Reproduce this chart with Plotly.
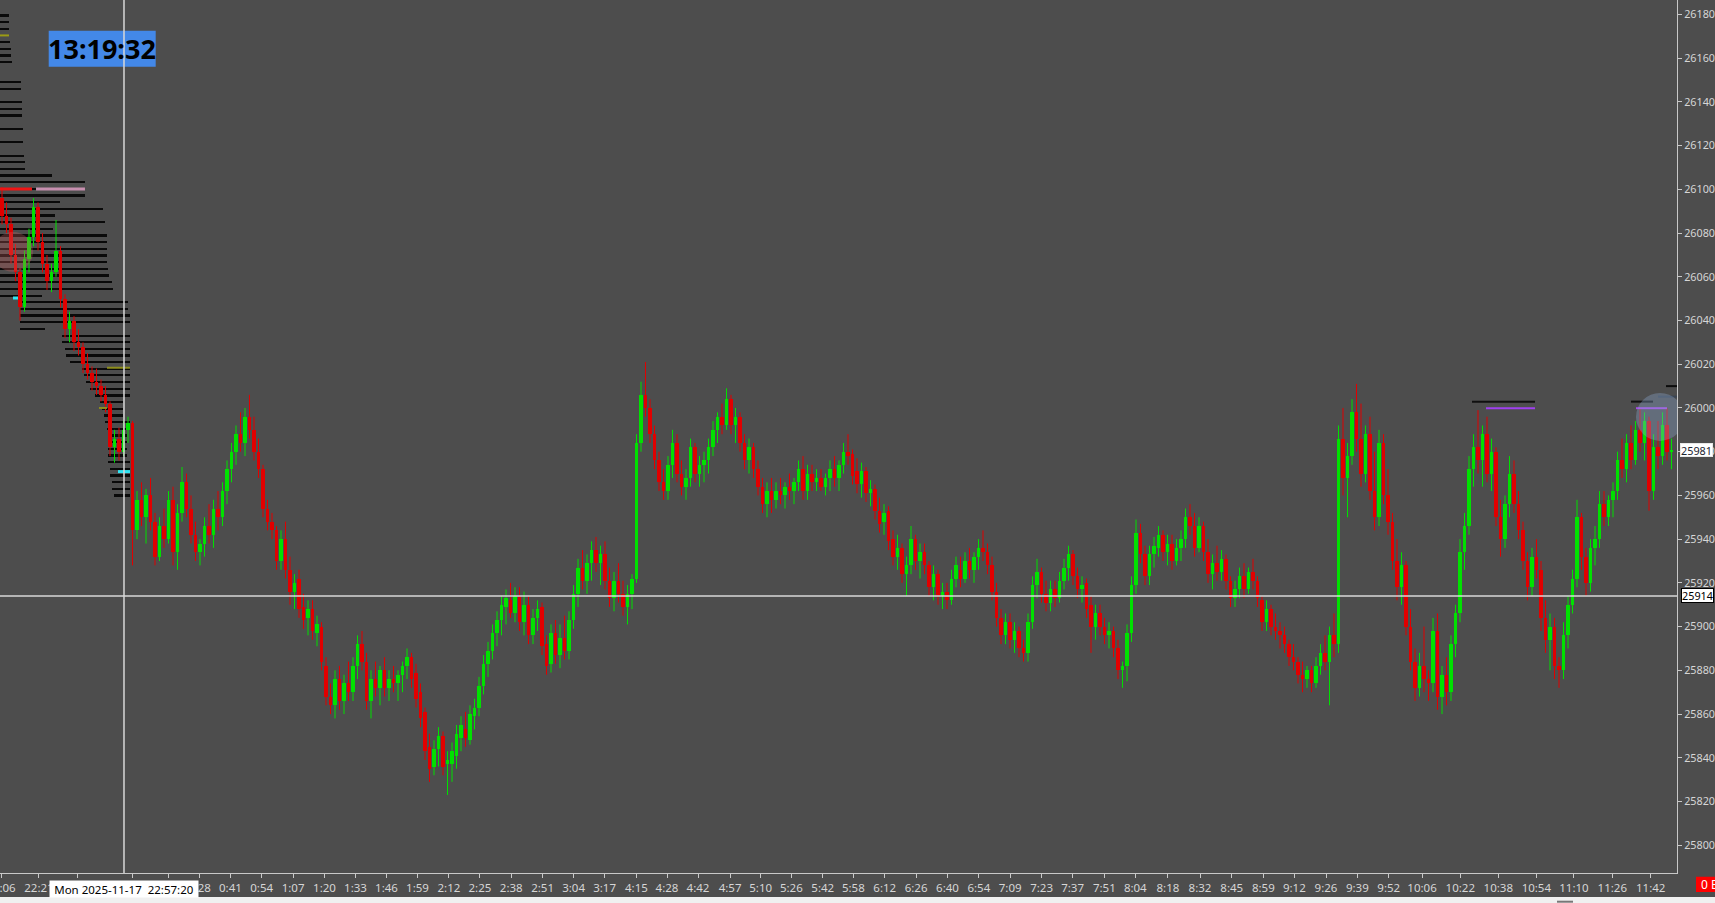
import plotly.graph_objects as go

W, H = 1715, 903
PLOT_RIGHT = 1677      # px, right edge of the price pane
PLOT_BOTTOM = 873      # px, bottom edge of the price pane
BG = "#4d4d4d"
AX = "#c8c8c8"
TXT = "#d6d6d6"
UP = "#00e100"
DN = "#e10000"
FONT = "Noto Sans"

# ---------------- OHLC bars ----------------
opens = [
 26096, 26088, 26084, 26070, 26062, 26046, 26068, 26078, 26092, 26076,
 26066, 26058, 26062, 26072, 26050, 26036, 26040, 26030, 26028, 26020,
 26016, 26012, 26010, 26006, 26002, 25982, 25986, 25980, 25990, 25993,
 25944, 25958, 25950, 25960, 25948, 25932, 25946, 25940, 25958, 25934,
 25952, 25966, 25954, 25942, 25934, 25938, 25946, 25942, 25954, 25950,
 25962, 25972, 25980, 25988, 25984, 25996, 25990, 25980, 25972, 25954,
 25948, 25944, 25930, 25940, 25926, 25916, 25922, 25909, 25904, 25908,
 25897, 25900, 25882, 25868, 25864, 25876, 25866, 25874, 25870, 25882,
 25892, 25884, 25866, 25876, 25872, 25880, 25872, 25876, 25874, 25878,
 25882, 25886, 25879, 25870, 25861, 25845, 25836, 25844, 25850, 25837,
 25837, 25841, 25849, 25853, 25848, 25859, 25863, 25873, 25883, 25889,
 25897, 25903, 25909, 25912, 25906, 25914, 25902, 25910, 25896, 25904,
 25909, 25892, 25883, 25897, 25887, 25895, 25889, 25903, 25915, 25927,
 25921, 25929, 25935, 25929, 25933, 25921, 25913, 25921, 25915, 25909,
 25915, 25922, 25984, 26006, 26000, 25988, 25976, 25966, 25962, 25974,
 25984, 25970, 25964, 25968, 25982, 25970, 25974, 25976, 25982, 25990,
 25996, 25992, 26004, 25992, 25996, 25984, 25976, 25982, 25972, 25964,
 25956, 25962, 25958, 25962, 25960, 25964, 25962, 25966, 25972, 25962,
 25970, 25966, 25968, 25964, 25968, 25972, 25968, 25974, 25980, 25979,
 25971, 25965, 25971, 25961, 25963, 25953, 25948, 25953, 25940, 25932,
 25936, 25924, 25928, 25940, 25930, 25934, 25928, 25918, 25924, 25914,
 25916, 25912, 25922, 25926, 25922, 25930, 25926, 25932, 25936, 25934,
 25928, 25916, 25904, 25896, 25902, 25894, 25898, 25890, 25888, 25902,
 25919, 25925, 25915, 25911, 25917, 25913, 25921, 25927, 25933, 25923,
 25917, 25920, 25910, 25900, 25906, 25900, 25896, 25898, 25890, 25880,
 25882, 25897, 25919, 25943, 25933, 25923, 25933, 25936, 25942, 25934,
 25938, 25930, 25936, 25940, 25950, 25946, 25936, 25946, 25934, 25924,
 25929, 25925, 25931, 25921, 25913, 25917, 25923, 25917, 25925, 25921,
 25912, 25902, 25908, 25900, 25898, 25896, 25892, 25886, 25884, 25878,
 25876, 25880, 25874, 25882, 25888, 25884, 25896, 25892, 25986, 25968,
 25978, 25998, 25986, 25970, 25988, 25962, 25950, 25984, 25960, 25948,
 25930, 25918, 25928, 25900, 25884, 25872, 25882, 25876, 25874, 25898,
 25868, 25878, 25870, 25892, 25906, 25934, 25946, 25972, 25982, 25976,
 25988, 25970, 25980, 25950, 25940, 25956, 25970, 25956, 25944, 25930,
 25918, 25932, 25926, 25904, 25894, 25900, 25882, 25880, 25896, 25910,
 25922, 25950, 25932, 25920, 25936, 25940, 25956, 25950, 25958, 25962,
 25976, 25972, 25984, 25976, 25990, 25984, 25994, 25962, 25982, 25978,
 25992, 25980,
]
highs = [
 26101, 26094, 26087, 26075, 26064, 26072, 26082, 26096, 26094, 26080,
 26070, 26066, 26086, 26074, 26052, 26044, 26042, 26036, 26030, 26025,
 26019, 26018, 26013, 26010, 26003, 25990, 25991, 25994, 25996, 25994,
 25962, 25966, 25963, 25968, 25952, 25950, 25954, 25962, 25964, 25956,
 25973, 25970, 25960, 25948, 25940, 25950, 25956, 25958, 25962, 25966,
 25976, 25984, 25992, 25998, 26000, 26006, 25996, 25986, 25974, 25958,
 25952, 25946, 25944, 25948, 25932, 25924, 25926, 25915, 25912, 25912,
 25905, 25902, 25886, 25874, 25880, 25882, 25878, 25884, 25886, 25896,
 25898, 25888, 25880, 25884, 25882, 25886, 25880, 25882, 25880, 25884,
 25890, 25888, 25883, 25874, 25863, 25851, 25848, 25854, 25852, 25843,
 25847, 25855, 25859, 25861, 25864, 25867, 25877, 25887, 25893, 25901,
 25907, 25914, 25917, 25920, 25918, 25918, 25916, 25914, 25908, 25912,
 25911, 25896, 25901, 25903, 25901, 25905, 25907, 25919, 25931, 25935,
 25933, 25939, 25941, 25937, 25939, 25927, 25925, 25929, 25921, 25919,
 25924, 25988, 26012, 26021, 26004, 25992, 25980, 25972, 25978, 25990,
 25988, 25976, 25972, 25986, 25984, 25978, 25980, 25986, 25994, 25998,
 26002, 26009, 26006, 26000, 25998, 25988, 25986, 25984, 25976, 25968,
 25966, 25968, 25966, 25968, 25966, 25970, 25968, 25976, 25978, 25974,
 25974, 25972, 25972, 25970, 25976, 25978, 25976, 25984, 25988, 25981,
 25977, 25975, 25973, 25967, 25965, 25959, 25956, 25955, 25944, 25942,
 25938, 25932, 25946, 25942, 25938, 25938, 25930, 25928, 25926, 25920,
 25920, 25926, 25932, 25932, 25934, 25936, 25934, 25940, 25944, 25938,
 25932, 25920, 25908, 25906, 25906, 25902, 25900, 25894, 25906, 25923,
 25931, 25927, 25921, 25921, 25921, 25925, 25931, 25937, 25935, 25927,
 25923, 25922, 25914, 25910, 25910, 25904, 25902, 25900, 25894, 25884,
 25901, 25923, 25949, 25947, 25937, 25937, 25941, 25946, 25944, 25942,
 25942, 25940, 25944, 25954, 25956, 25952, 25950, 25948, 25940, 25933,
 25937, 25935, 25933, 25923, 25921, 25927, 25929, 25927, 25931, 25923,
 25914, 25912, 25910, 25906, 25902, 25900, 25894, 25892, 25886, 25884,
 25882, 25882, 25886, 25892, 25896, 25900, 25906, 25992, 26000, 25984,
 26004, 26011, 26002, 25992, 25996, 25980, 25990, 25988, 25972, 25952,
 25940, 25934, 25930, 25908, 25890, 25888, 25900, 25880, 25904, 25906,
 25882, 25886, 25896, 25910, 25940, 25952, 25978, 25988, 25999, 25992,
 25996, 25986, 25982, 25958, 25960, 25978, 25976, 25962, 25948, 25934,
 25936, 25940, 25930, 25912, 25906, 25904, 25886, 25902, 25914, 25926,
 25958, 25952, 25936, 25940, 25946, 25962, 25962, 25960, 25966, 25980,
 25986, 25988, 25992, 25994, 26000, 25998, 25996, 25988, 25994, 25998,
 26000, 25986,
]
lows = [
 26084, 26080, 26066, 26058, 26040, 26044, 26062, 26074, 26072, 26062,
 26054, 26053, 26060, 26046, 26032, 26030, 26026, 26024, 26016, 26013,
 26008, 26006, 26003, 25998, 25978, 25975, 25976, 25978, 25984, 25928,
 25940, 25946, 25938, 25944, 25928, 25930, 25936, 25938, 25928, 25926,
 25948, 25950, 25938, 25930, 25928, 25932, 25938, 25936, 25944, 25946,
 25956, 25966, 25974, 25980, 25978, 25986, 25976, 25968, 25950, 25944,
 25940, 25926, 25926, 25922, 25910, 25908, 25904, 25899, 25896, 25894,
 25891, 25880, 25864, 25860, 25858, 25862, 25860, 25866, 25866, 25876,
 25880, 25862, 25858, 25868, 25864, 25868, 25866, 25870, 25866, 25870,
 25876, 25872, 25863, 25854, 25839, 25829, 25832, 25836, 25832, 25823,
 25829, 25835, 25843, 25845, 25846, 25853, 25859, 25869, 25877, 25885,
 25891, 25896, 25901, 25904, 25902, 25898, 25896, 25892, 25892, 25898,
 25887, 25878, 25879, 25883, 25881, 25885, 25885, 25899, 25909, 25917,
 25915, 25921, 25925, 25919, 25917, 25909, 25907, 25911, 25905, 25901,
 25908, 25920, 25980, 25996, 25984, 25972, 25962, 25958, 25958, 25968,
 25966, 25960, 25958, 25964, 25966, 25964, 25966, 25970, 25978, 25984,
 25988, 25990, 25988, 25984, 25980, 25972, 25970, 25968, 25960, 25952,
 25950, 25952, 25954, 25956, 25954, 25958, 25956, 25962, 25958, 25958,
 25962, 25962, 25962, 25960, 25962, 25964, 25962, 25970, 25974, 25965,
 25961, 25959, 25957, 25955, 25949, 25943, 25942, 25935, 25928, 25926,
 25920, 25914, 25924, 25926, 25922, 25924, 25914, 25912, 25910, 25908,
 25908, 25910, 25918, 25918, 25920, 25922, 25920, 25926, 25930, 25924,
 25912, 25900, 25892, 25892, 25890, 25888, 25886, 25884, 25884, 25899,
 25913, 25911, 25907, 25907, 25909, 25911, 25917, 25921, 25919, 25913,
 25911, 25904, 25888, 25894, 25896, 25892, 25890, 25886, 25876, 25872,
 25875, 25893, 25915, 25929, 25919, 25919, 25927, 25932, 25930, 25928,
 25926, 25928, 25930, 25936, 25942, 25932, 25934, 25930, 25920, 25917,
 25921, 25921, 25917, 25909, 25909, 25913, 25913, 25915, 25917, 25909,
 25898, 25898, 25896, 25894, 25890, 25888, 25882, 25880, 25874, 25870,
 25872, 25870, 25872, 25878, 25880, 25864, 25886, 25888, 25960, 25950,
 25974, 25980, 25964, 25966, 25958, 25944, 25946, 25956, 25942, 25926,
 25912, 25910, 25896, 25880, 25866, 25868, 25870, 25866, 25870, 25862,
 25860, 25864, 25866, 25886, 25902, 25926, 25942, 25964, 25970, 25964,
 25966, 25962, 25946, 25932, 25936, 25950, 25952, 25940, 25926, 25912,
 25914, 25922, 25898, 25888, 25880, 25876, 25872, 25876, 25890, 25906,
 25918, 25926, 25914, 25916, 25928, 25936, 25946, 25946, 25950, 25958,
 25968, 25966, 25972, 25974, 25980, 25976, 25953, 25958, 25972, 25974,
 25976, 25972,
]
closes = [
 26088, 26084, 26070, 26062, 26046, 26068, 26078, 26092, 26076, 26066,
 26058, 26062, 26072, 26050, 26036, 26040, 26030, 26028, 26020, 26016,
 26012, 26010, 26006, 26002, 25982, 25986, 25980, 25990, 25993, 25944,
 25958, 25950, 25960, 25948, 25932, 25946, 25940, 25958, 25934, 25952,
 25966, 25954, 25942, 25934, 25938, 25946, 25942, 25954, 25950, 25962,
 25972, 25980, 25988, 25984, 25996, 25990, 25980, 25972, 25954, 25948,
 25944, 25930, 25940, 25926, 25916, 25920, 25908, 25903, 25908, 25898,
 25901, 25884, 25868, 25864, 25876, 25866, 25874, 25870, 25882, 25892,
 25884, 25866, 25876, 25872, 25880, 25872, 25876, 25874, 25878, 25882,
 25886, 25876, 25867, 25858, 25843, 25835, 25844, 25850, 25836, 25839,
 25843, 25851, 25855, 25849, 25860, 25863, 25873, 25883, 25889, 25897,
 25903, 25910, 25913, 25906, 25914, 25902, 25910, 25896, 25904, 25908,
 25891, 25882, 25897, 25887, 25895, 25889, 25903, 25915, 25927, 25921,
 25929, 25935, 25929, 25933, 25921, 25913, 25921, 25915, 25909, 25915,
 25922, 25984, 26006, 26000, 25988, 25976, 25966, 25962, 25974, 25984,
 25970, 25964, 25968, 25982, 25970, 25974, 25976, 25982, 25990, 25996,
 25992, 26004, 25992, 25996, 25984, 25976, 25982, 25972, 25964, 25956,
 25962, 25958, 25962, 25960, 25964, 25962, 25966, 25972, 25962, 25970,
 25966, 25968, 25964, 25968, 25972, 25968, 25974, 25980, 25978, 25969,
 25965, 25971, 25961, 25963, 25953, 25947, 25952, 25939, 25932, 25936,
 25924, 25928, 25940, 25930, 25934, 25928, 25918, 25924, 25914, 25916,
 25912, 25922, 25928, 25922, 25930, 25926, 25932, 25936, 25934, 25928,
 25916, 25904, 25896, 25902, 25894, 25898, 25890, 25888, 25902, 25919,
 25925, 25915, 25911, 25917, 25913, 25921, 25927, 25933, 25923, 25917,
 25919, 25908, 25900, 25906, 25900, 25896, 25898, 25890, 25880, 25882,
 25897, 25919, 25943, 25933, 25923, 25933, 25937, 25942, 25934, 25938,
 25930, 25936, 25940, 25950, 25946, 25936, 25946, 25934, 25924, 25929,
 25925, 25931, 25921, 25913, 25917, 25923, 25917, 25925, 25921, 25913,
 25902, 25908, 25900, 25898, 25896, 25892, 25886, 25884, 25878, 25876,
 25880, 25874, 25882, 25888, 25884, 25896, 25892, 25986, 25968, 25978,
 25998, 25986, 25970, 25988, 25962, 25950, 25984, 25960, 25948, 25930,
 25918, 25928, 25900, 25884, 25872, 25882, 25876, 25874, 25898, 25868,
 25878, 25870, 25892, 25906, 25934, 25946, 25972, 25982, 25976, 25988,
 25970, 25980, 25950, 25940, 25956, 25970, 25956, 25944, 25930, 25918,
 25932, 25926, 25904, 25894, 25900, 25882, 25880, 25896, 25910, 25922,
 25950, 25932, 25920, 25936, 25940, 25956, 25950, 25958, 25962, 25976,
 25972, 25984, 25976, 25990, 25984, 25994, 25962, 25982, 25978, 25992,
 25980, 25981,
]

# ---------------- time axis (bar-index positions of the labels) ----------------
tick_pos = [
 -0.22, 8.22, 16.82, 28.89, 36.98, 43.87, 50.76, 57.71, 64.69, 71.67,
 78.56, 85.44, 92.33, 99.31, 106.20, 113.16, 120.13, 127.02, 133.91, 140.98,
 147.78, 154.67, 161.80, 168.60, 175.40, 182.38, 189.18, 196.16, 203.13, 210.11,
 217.07, 224.04, 231.02, 237.91, 244.96, 251.84, 259.09, 266.22, 273.27, 280.29,
 287.18, 294.22, 301.18, 308.16, 315.56, 324.07, 332.51, 340.96, 349.33, 357.84,
 366.38,
]
tick_text = [
 "22:06", "22:21", "22:38", "23:17", "0:02", "0:28", "0:41", "0:54", "1:07", "1:20",
 "1:33", "1:46", "1:59", "2:12", "2:25", "2:38", "2:51", "3:04", "3:17", "4:15",
 "4:28", "4:42", "4:57", "5:10", "5:26", "5:42", "5:58", "6:12", "6:26", "6:40",
 "6:54", "7:09", "7:23", "7:37", "7:51", "8:04", "8:18", "8:32", "8:45", "8:59",
 "9:12", "9:26", "9:39", "9:52", "10:06", "10:22", "10:38", "10:54", "11:10", "11:26",
 "11:42",
]

# ---------------- volume-at-price rows (price, first bar, last bar) ----------------
prof_price = [
 26179.5, 26176.5, 26173.4, 26167.3, 26164.3, 26161.2, 26158.2, 26149.0, 26146.0, 26139.9,
 26136.8, 26133.8, 26127.7, 26121.6, 26115.4, 26112.4, 26109.4, 26106.3, 26103.3, 26100.2,
 26097.2, 26094.1, 26091.1, 26088.0, 26085.0, 26082.0, 26078.9, 26075.8, 26072.8, 26069.7,
 26066.7, 26063.6, 26060.6, 26057.5, 26054.5, 26051.4, 26048.4, 26045.3, 26042.3, 26039.2,
 26036.2, 26033.1, 26030.1, 26027.0, 26024.0, 26021.0, 26017.9, 26014.9, 26011.8, 26008.8,
 26005.7, 26002.7, 25999.6, 25996.6, 25993.5, 25990.5, 25987.4, 25984.4, 25981.3, 25978.3,
 25975.2, 25972.2, 25969.1, 25966.1, 25963.0, 25960.0,
]
prof_start = [
 -0.45, -0.45, -0.45, -0.45, -0.45, -0.45, -0.45, -0.45, -0.45, -0.45,
 -0.45, -0.45, -0.45, -0.45, -0.45, -0.45, -0.45, -0.45, -0.45, -0.45,
 -0.45, -0.45, -0.45, -0.45, -0.45, -0.45, -0.45, -0.45, -0.45, -0.45,
 -0.45, -0.45, -0.45, -0.45, -0.45, -0.45, 4.00, 4.00, 4.00, 4.00,
 4.00, 13.33, 13.33, 14.00, 14.22, 15.11, 17.78, 18.22, 18.67, 19.56,
 20.67, 21.78, 22.22, 22.67, 22.89, 23.33, 23.56, 23.56, 23.56, 23.56,
 23.56, 24.00, 24.00, 24.44, 24.44, 24.89,
]
prof_end = [
 1.56, 1.56, 1.56, 1.78, 2.00, 2.00, 2.22, 4.22, 4.22, 4.44,
 4.44, 4.44, 4.67, 4.67, 4.89, 5.11, 5.11, 11.11, 18.44, 18.44,
 18.44, 12.89, 22.44, 11.78, 22.89, 11.33, 23.33, 23.33, 23.33, 23.33,
 23.33, 23.56, 23.78, 24.44, 24.67, 8.89, 28.00, 28.00, 28.44, 28.44,
 9.56, 28.44, 28.44, 28.44, 28.44, 28.44, 28.44, 28.44, 28.44, 28.44,
 28.44, 26.89, 26.89, 26.89, 28.44, 27.78, 27.78, 27.78, 27.78, 27.78,
 28.44, 28.44, 28.44, 28.44, 28.44, 28.44,
]

# ---------------- drawn level lines (price, first bar, last bar, colour, width) ----------------
lvl_price = [26170.4, 26100.2, 26100.2, 26018.4, 26000.0, 26050.3, 25970.9,
             26002.9, 25999.9, 26002.9, 25999.9, 26010.0, 26005.2]
lvl_start = [-0.45, -0.45, 7.56, 23.33, 21.56, 2.44, 25.78,
             326.67, 329.78, 362.00, 363.11, 369.78, 368.00]
lvl_end = [1.56, 6.67, 18.44, 28.44, 23.33, 3.56, 28.44,
           340.67, 340.67, 366.89, 370.00, 372.30, 372.30]
lvl_color = ["#9c9c14", "#f01414", "#c890b0", "#8e8e1c", "#8e8e1c", "#30e4f4", "#30e4f4",
             "#101010", "#a040f0", "#101010", "#a848e8", "#0c0c0c", "#3a4452"]
lvl_width = [2, 3, 3, 2, 2, 3, 3, 2, 2, 2, 2, 2, 2]

# ---------------- cursor / labels ----------------
crosshair_bar = 27.11
crosshair_price = 25914
last_price = 25981
clock_text = "13:19:32"
cursor_time = "Mon 2025-11-17\u00a0\u00a022:57:20"

n = len(closes)
x_range = [-0.444, 372.22]
y_range = [25787.3, 26186.6]

fig = go.Figure()

# volume-at-price rows (behind the bars)
fig.add_trace(go.Bar(
    orientation="h", y=prof_price,
    x=[e - s for s, e in zip(prof_start, prof_end)], base=prof_start,
    width=1.0, marker=dict(color="#0a0a0a", line=dict(width=0)),
    hoverinfo="skip"))

def add_candles(ids, color):
    wx, wy = [], []
    for i in ids:
        wx += [i, i, None]
        wy += [lows[i], highs[i], None]
    fig.add_trace(go.Scatter(x=wx, y=wy, mode="lines",
                             line=dict(color=color, width=1), hoverinfo="skip"))
    fig.add_trace(go.Bar(
        x=ids,
        y=[max(abs(closes[i] - opens[i]), 0.7) for i in ids],
        base=[min(opens[i], closes[i]) for i in ids],
        width=0.7, marker=dict(color=color, line=dict(width=0)),
        hoverinfo="skip"))

up_ids = [i for i in range(n) if closes[i] >= opens[i]]
dn_ids = [i for i in range(n) if closes[i] < opens[i]]
add_candles(up_ids, UP)
add_candles(dn_ids, DN)

for p, s, e, c, w in zip(lvl_price, lvl_start, lvl_end, lvl_color, lvl_width):
    fig.add_trace(go.Scatter(x=[s, e], y=[p, p], mode="lines",
                             line=dict(color=c, width=w), hoverinfo="skip"))

xd = PLOT_RIGHT / W
yd = (H - PLOT_BOTTOM) / H

shapes = [
    # translucent highlight circles
    dict(type="circle", xref="x", yref="y", xsizemode="pixel", ysizemode="pixel",
         xanchor=2.44, yanchor=26071.4, x0=-20, x1=20, y0=-20, y1=20,
         fillcolor="rgba(205,100,100,0.30)", line=dict(width=0), layer="above"),
    dict(type="circle", xref="x", yref="y", xsizemode="pixel", ysizemode="pixel",
         xanchor=368.44, yanchor=25995.9, x0=-24, x1=24, y0=-24, y1=24,
         fillcolor="rgba(140,170,210,0.35)", line=dict(width=0), layer="above"),
    # clock box
    dict(type="rect", xref="paper", yref="paper",
         x0=48.7 / W, x1=155.7 / W, y0=1 - 66.7 / H, y1=1 - 30.7 / H,
         fillcolor="#4388e8", line=dict(width=0), layer="above"),
    # crosshair
    dict(type="line", xref="x", yref="paper", x0=crosshair_bar, x1=crosshair_bar,
         y0=yd, y1=1, line=dict(color="#d8d8d8", width=1.5), layer="above"),
    dict(type="line", xref="paper", yref="y", x0=0, x1=xd,
         y0=crosshair_price, y1=crosshair_price,
         line=dict(color="#d8d8d8", width=1.5), layer="above"),
    # bottom window strip
    dict(type="rect", xref="paper", yref="paper", x0=0, x1=1, y0=0, y1=6 / H,
         fillcolor="#f0f0f0", line=dict(width=0), layer="above"),
    dict(type="rect", xref="paper", yref="paper", x0=1557 / W, x1=1573 / W,
         y0=0.3 / H, y1=2.3 / H, fillcolor="#777777", line=dict(width=0), layer="above"),
    # red status box
    dict(type="rect", xref="paper", yref="paper", x0=1696 / W, x1=1.01,
         y0=1 - 892 / H, y1=1 - 876.7 / H, fillcolor="#ff0000",
         line=dict(width=0), layer="above"),
]

annotations = [
    dict(text="<b>" + clock_text + "</b>", xref="paper", yref="paper",
         x=102.2 / W, y=1 - 48.7 / H, xanchor="center", yanchor="middle",
         showarrow=False, font=dict(family=FONT, size=27, color="#000000")),
    dict(text=cursor_time, xref="paper", yref="paper", x=124 / W, y=1 - 889 / H,
         xanchor="center", yanchor="middle", showarrow=False, bgcolor="#ffffff",
         width=146, height=14, borderpad=1,
         font=dict(family=FONT, size=11.5, color="#000000")),
    dict(text=str(crosshair_price), xref="paper", yref="y", x=1697.5 / W,
         y=crosshair_price, xanchor="center", yanchor="middle", showarrow=False,
         bgcolor="#ffffff", bordercolor="#000000", borderwidth=1, borderpad=0,
         width=31, height=13, font=dict(family=FONT, size=10.8, color="#000000")),
    dict(text=str(last_price), xref="paper", yref="y", x=1696.5 / W,
         y=last_price, xanchor="center", yanchor="middle", showarrow=False,
         bgcolor="#ffffff", bordercolor="#e8e8e8", borderwidth=1, borderpad=0,
         width=31, height=12, font=dict(family=FONT, size=10.8, color="#1c2430")),
    dict(text="0 E", xref="paper", yref="paper", x=1699 / W, y=1 - 884.5 / H,
         xanchor="left", yanchor="middle", showarrow=False,
         font=dict(family=FONT, size=12, color="#ffffff")),
]

fig.update_layout(
    width=W, height=H, margin=dict(l=0, r=0, t=0, b=0, autoexpand=False),
    paper_bgcolor=BG, plot_bgcolor=BG, showlegend=False,
    barmode="overlay", bargap=0,
    font=dict(family=FONT, size=11.5, color=TXT),
    xaxis=dict(domain=[0, xd], range=x_range, tickmode="array",
               tickvals=tick_pos, ticktext=tick_text, tickangle=0,
               ticklabeloverflow="allow",
               ticks="outside", ticklen=4, tickcolor=AX, showline=True,
               linecolor=AX, linewidth=1, showgrid=False, zeroline=False,
               tickfont=dict(family=FONT, size=11.5, color=TXT), fixedrange=True),
    yaxis=dict(domain=[yd, 1], range=y_range, side="right", tick0=25800, dtick=20,
               tickformat="d", ticks="outside", ticklen=4, tickcolor=AX,
               showline=True, linecolor=AX, linewidth=1, showgrid=False,
               zeroline=False, tickfont=dict(family=FONT, size=10.8, color=TXT),
               fixedrange=True),
    shapes=shapes, annotations=annotations,
)

fig.write_html(
    "out.html",
    config={"displayModeBar": False},
    post_script="document.body.style.margin='0px';document.body.style.overflow='hidden';",
)
